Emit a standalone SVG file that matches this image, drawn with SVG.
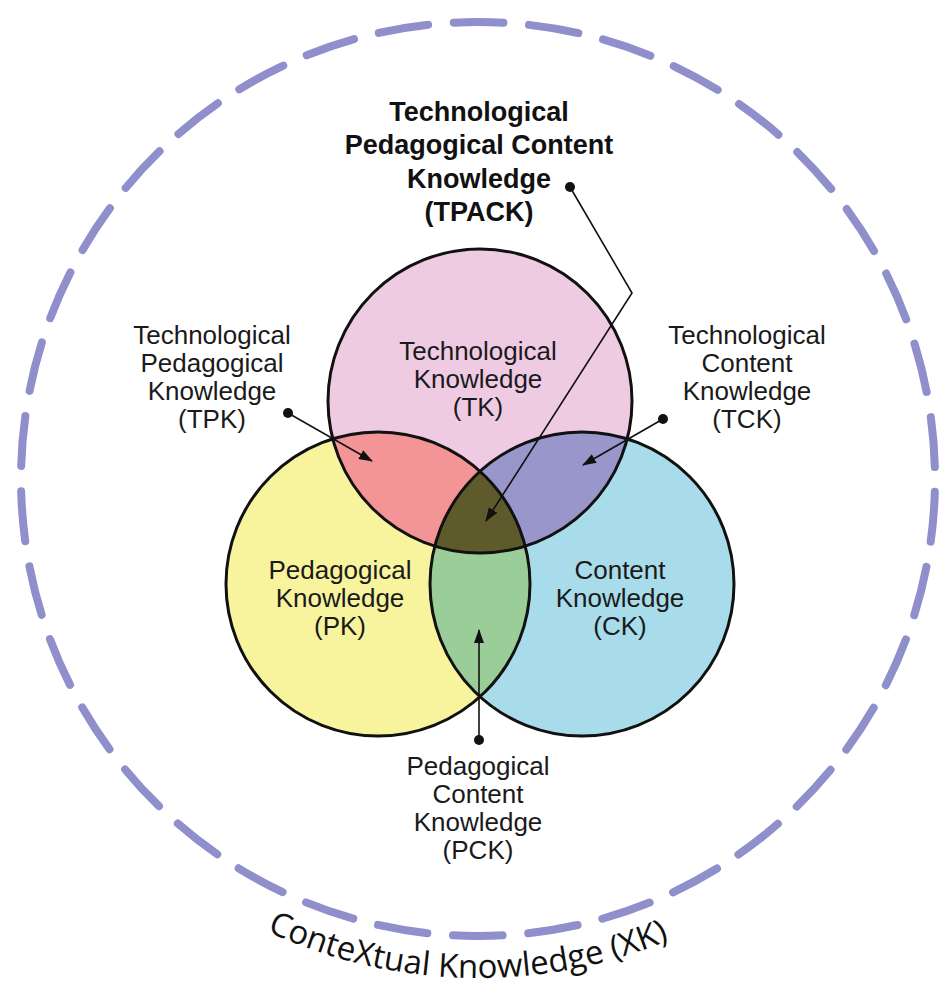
<svg xmlns="http://www.w3.org/2000/svg" width="950" height="1004" viewBox="0 0 950 1004">
<style>
.lbl{font-family:"Liberation Sans",Arial,sans-serif;font-size:26px;fill:#1a1a1a;text-anchor:middle}
.bold{font-family:"Liberation Sans",Arial,sans-serif;font-size:27px;font-weight:bold;fill:#111;text-anchor:middle}
.ring{fill:none;stroke:#111;stroke-width:3}
.conn{fill:none;stroke:#111;stroke-width:1.6}
</style>
<defs>
<clipPath id="clipT"><circle cx="480" cy="401" r="152"/></clipPath>
<clipPath id="clipP"><circle cx="378" cy="584" r="152"/></clipPath>
<clipPath id="clipC"><circle cx="582" cy="584" r="152"/></clipPath>
<marker id="arrow" viewBox="0 0 14 10" refX="13" refY="5" markerWidth="14" markerHeight="10" markerUnits="userSpaceOnUse" orient="auto">
<path d="M0,0 L14,5 L0,10 Z" fill="#111"/>
</marker>
<marker id="dot" viewBox="0 0 10 10" refX="5" refY="5" markerWidth="10" markerHeight="10" markerUnits="userSpaceOnUse">
<circle cx="5" cy="5" r="5" fill="#111"/>
</marker>
<path id="xkpath" d="M -21 479 A 499 499 0 0 0 977 479"/>
</defs>
<rect width="950" height="1004" fill="#ffffff"/>

<g id="XK">
<circle cx="478" cy="479" r="457" fill="none" stroke="#8f8fcc" stroke-width="8" stroke-linecap="round" stroke-dasharray="50 25.57" stroke-dashoffset="-12.8"/>
<text font-family="'Open Sans','Noto Sans',sans-serif" font-size="33" fill="#111"><textPath href="#xkpath" startOffset="49.3%" text-anchor="middle">ConteXtual Knowledge (XK)</textPath></text>
</g>

<g id="TK"><circle cx="480" cy="401" r="152" fill="#efcbe3"/></g>
<g id="PK"><circle cx="378" cy="584" r="152" fill="#f8f39d"/></g>
<g id="CK"><circle cx="582" cy="584" r="152" fill="#a8dceb"/></g>
<g id="TPK"><circle cx="480" cy="401" r="152" fill="#f39597" clip-path="url(#clipP)"/></g>
<g id="TCK"><circle cx="480" cy="401" r="152" fill="#9896cb" clip-path="url(#clipC)"/></g>
<g id="PCK"><circle cx="378" cy="584" r="152" fill="#9bcd98" clip-path="url(#clipC)"/></g>
<g id="TPACK"><g clip-path="url(#clipP)"><circle cx="480" cy="401" r="152" fill="#5e5a2b" clip-path="url(#clipC)"/></g></g>

<g id="outlines">
<circle class="ring" cx="480" cy="401" r="152"/>
<circle class="ring" cx="378" cy="584" r="152"/>
<circle class="ring" cx="582" cy="584" r="152"/>
</g>

<g id="connectors">
<polyline class="conn" points="570,187 632,293 486,521" marker-start="url(#dot)" marker-end="url(#arrow)"/>
<line class="conn" x1="288" y1="413" x2="372" y2="461" marker-start="url(#dot)" marker-end="url(#arrow)"/>
<line class="conn" x1="663" y1="419" x2="583" y2="465" marker-start="url(#dot)" marker-end="url(#arrow)"/>
<line class="conn" x1="479" y1="740" x2="479" y2="630" marker-start="url(#dot)" marker-end="url(#arrow)"/>
</g>

<g id="label-TPACK">
<text class="bold" x="479" y="121">Technological</text>
<text class="bold" x="479" y="154">Pedagogical Content</text>
<text class="bold" x="479" y="188">Knowledge</text>
<text class="bold" x="479" y="221">(TPACK)</text>
</g>
<g id="label-TK">
<text class="lbl" x="478" y="360">Technological</text>
<text class="lbl" x="478" y="388">Knowledge</text>
<text class="lbl" x="478" y="416">(TK)</text>
</g>
<g id="label-TPK">
<text class="lbl" x="212" y="344">Technological</text>
<text class="lbl" x="212" y="372">Pedagogical</text>
<text class="lbl" x="212" y="400">Knowledge</text>
<text class="lbl" x="212" y="428">(TPK)</text>
</g>
<g id="label-TCK">
<text class="lbl" x="747" y="344">Technological</text>
<text class="lbl" x="747" y="372">Content</text>
<text class="lbl" x="747" y="400">Knowledge</text>
<text class="lbl" x="747" y="428">(TCK)</text>
</g>
<g id="label-PK">
<text class="lbl" x="340" y="579">Pedagogical</text>
<text class="lbl" x="340" y="607">Knowledge</text>
<text class="lbl" x="340" y="635">(PK)</text>
</g>
<g id="label-CK">
<text class="lbl" x="620" y="579">Content</text>
<text class="lbl" x="620" y="607">Knowledge</text>
<text class="lbl" x="620" y="635">(CK)</text>
</g>
<g id="label-PCK">
<text class="lbl" x="478" y="775">Pedagogical</text>
<text class="lbl" x="478" y="803">Content</text>
<text class="lbl" x="478" y="831">Knowledge</text>
<text class="lbl" x="478" y="859">(PCK)</text>
</g>
</svg>
